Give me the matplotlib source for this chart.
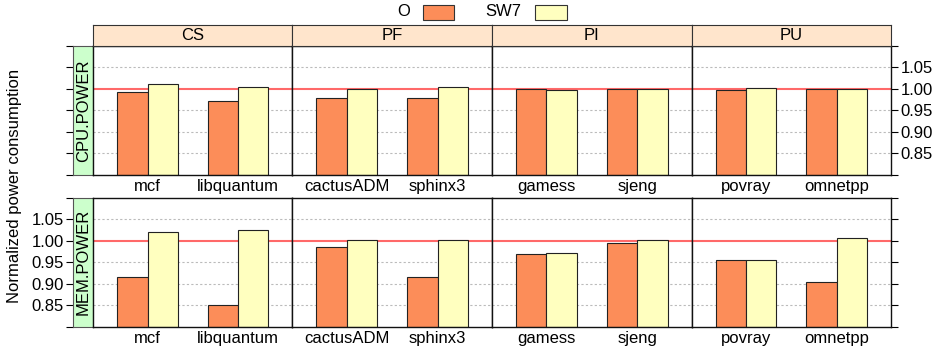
import matplotlib
matplotlib.use("Agg")
import matplotlib.pyplot as plt
from matplotlib.patches import Rectangle

plt.rcParams['font.family'] = ['Liberation Sans', 'DejaVu Sans']

# data
groups = ['CS', 'PF', 'PI', 'PU']
benchmarks = ['mcf', 'libquantum', 'cactusADM', 'sphinx3',
              'gamess', 'sjeng', 'povray', 'omnetpp']
metrics = ['CPU.POWER', 'MEM.POWER']
series = ['O', 'SW7']
cpu_O = [0.992, 0.971, 0.978, 0.978, 0.999, 0.999, 0.998, 0.999]
cpu_SW7 = [1.012, 1.005, 0.999, 1.004, 0.997, 1.000, 1.001, 0.999]
mem_O = [0.916, 0.850, 0.985, 0.916, 0.968, 0.994, 0.954, 0.904]
mem_SW7 = [1.020, 1.025, 1.002, 1.002, 0.971, 1.002, 0.954, 1.005]
yticks = [0.85, 0.90, 0.95, 1.00, 1.05]

values = {'CPU.POWER': (cpu_O, cpu_SW7), 'MEM.POWER': (mem_O, mem_SW7)}
colors = ['#FC8D59', '#FFFFBF']
YMIN, YMAX = 0.80, 1.10

W, H = 938, 353
fig = plt.figure(figsize=(W / 100, H / 100), dpi=100)


def rect(x0, y0, x1, y1):
    # pixel box (top-left origin) -> figure fraction
    return [x0 / W, 1 - y1 / H, (x1 - x0) / W, (y1 - y0) / H]


col_x = [93.3, 292.3, 492.0, 691.7, 891.0]
row_y = [(45.7, 175.0), (197.5, 326.7)]
bw = 0.335

for r, metric in enumerate(metrics):
    y0, y1 = row_y[r]
    o_vals, s_vals = values[metric]

    # green strip on the left, also carries the left ticks
    sax = fig.add_axes(rect(73.3, y0, col_x[0], y1))
    sax.set_facecolor('#CCFFCC')
    sax.set_ylim(YMIN, YMAX)
    sax.set_xticks([])
    sax.set_yticks([0.80] + yticks + [1.10])
    if r == 1:
        sax.set_yticklabels([''] + ['%.2f' % t for t in yticks] + [''])
    else:
        sax.set_yticklabels([])
    sax.tick_params(axis='y', direction='out', length=5, labelsize=12, pad=2)
    for s in sax.spines.values():
        s.set_color('#555555')
    sax.text(0.5, 0.5, metric, rotation=90, ha='center', va='center',
             fontsize=12, transform=sax.transAxes)

    for c, grp in enumerate(groups):
        ax = fig.add_axes(rect(col_x[c], y0, col_x[c + 1], y1))
        ax.set_xlim(0.4, 2.6)
        ax.set_ylim(YMIN, YMAX)
        for t in [0.85, 0.90, 0.95, 1.05]:
            ax.axhline(t, color='#bbbbbb', lw=0.8, ls=(0, (2, 2)), zorder=0.5)
        ax.axhline(1.0, color='#ff4444', lw=1.5, alpha=0.8, zorder=0.6)

        idx = [2 * c, 2 * c + 1]
        xs = [1, 2]
        ov = [o_vals[i] for i in idx]
        sv = [s_vals[i] for i in idx]
        ax.bar([x - bw / 2 for x in xs], [v - YMIN for v in ov], bw, bottom=YMIN,
               color=colors[0], edgecolor='#222222', lw=0.8, zorder=2)
        ax.bar([x + bw / 2 for x in xs], [v - YMIN for v in sv], bw, bottom=YMIN,
               color=colors[1], edgecolor='#222222', lw=0.8, zorder=2)

        ax.set_xticks(xs)
        ax.set_xticklabels([benchmarks[i] for i in idx])
        ax.tick_params(axis='x', length=0, labelsize=12, pad=3)
        if c == 3:
            ax.yaxis.tick_right()
            ax.set_yticks([0.80] + yticks + [1.10])
            if r == 0:
                ax.set_yticklabels([''] + ['%.2f' % t for t in yticks] + [''])
            else:
                ax.set_yticklabels([])
            ax.tick_params(axis='y', direction='out', length=5, labelsize=12, pad=2)
        else:
            ax.set_yticks([])
        for s in ax.spines.values():
            s.set_color('#111111')
            s.set_linewidth(1.0)

        if r == 0:
            tax = fig.add_axes(rect(col_x[c], 25.3, col_x[c + 1], y0))
            tax.set_facecolor('#FFE5CC')
            tax.set_xticks([])
            tax.set_yticks([])
            for s in tax.spines.values():
                s.set_color('#333333')
            tax.text(0.5, 0.5, grp, ha='center', va='center', fontsize=12,
                     transform=tax.transAxes)

# legend on top
leg_items = [(series[0], 404, 423, 454), (series[1], 503, 535, 567)]
for (lab, tx, bx0, bx1), col in zip(leg_items, colors):
    fig.text(tx / W, 1 - 12 / H, lab, ha='center', va='center', fontsize=12)
    fig.patches.append(Rectangle((bx0 / W, 1 - 19.5 / H), (bx1 - bx0) / W, 14.5 / H,
                                 transform=fig.transFigure, facecolor=col,
                                 edgecolor='#333333', lw=0.8))

fig.text(15 / W, 1 - 186 / H, 'Normalized power consumption', rotation=90,
         ha='center', va='center', fontsize=12)

fig.savefig('out.png', dpi=100)
